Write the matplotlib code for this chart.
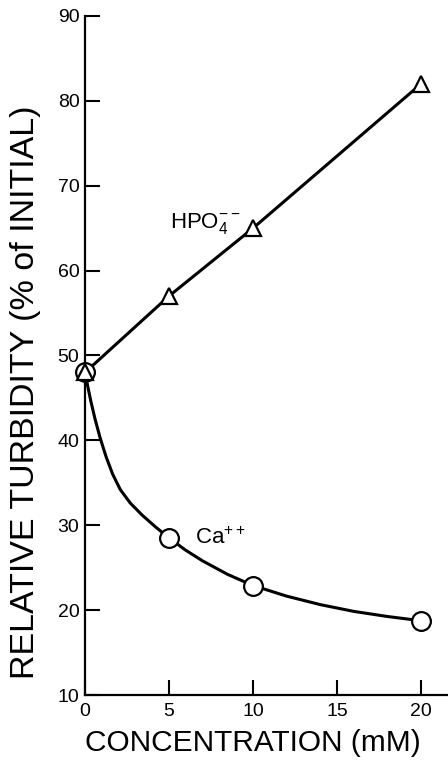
import numpy as np
import matplotlib
matplotlib.use('Agg')
import matplotlib.pyplot as plt

##########################################################################################################

# data

conc = [0, 5, 10, 20]
hpo4_turbidity = [48, 57, 65, 82]
ca_turbidity = [48, 28.5, 22.8, 18.7]

# hand-drawn smooth curve through the Ca++ points
ca_curve_x = [0, 0.15, 0.35, 0.6, 0.9, 1.25, 1.65, 2.1, 2.7, 3.4, 4.2,
              5, 6, 7, 8.5, 10, 12, 14, 16, 18, 20]
ca_curve_y = [48, 46.5, 44.6, 42.5, 40.3, 38.1, 36.0, 34.2, 32.6, 31.2, 29.8,
              28.5, 27.05, 25.8, 24.2, 22.9, 21.65, 20.65, 19.85, 19.25, 18.75]

x_ticks = [0, 5, 10, 15, 20]
x_ticklabels = ['0', '5', '10', '15', '20']
y_ticks = [10, 20, 30, 40, 50, 60, 70, 80, 90]

##########################################################################################################

FONT = ['Liberation Sans', 'DejaVu Sans']
plt.rcParams['font.family'] = FONT
plt.rcParams['mathtext.fontset'] = 'custom'
plt.rcParams['mathtext.rm'] = 'Liberation Sans'
plt.rcParams['mathtext.it'] = 'Liberation Sans'

W, H = 448, 761
fig = plt.figure(figsize=(W / 100, H / 100), dpi=100)

# axes placed in pixel terms: y axis at x=85, x axis at y=695, 90 tick at y=16
ax = fig.add_axes([85 / W, 1 - 695 / H, (W - 85) / W, (695 - 16) / H])
ax.set_xlim(0, (W - 85) / 16.8)
ax.set_ylim(10, 90)

ax.spines['top'].set_visible(False)
ax.spines['right'].set_visible(False)
ax.spines['left'].set_linewidth(1.6)
ax.spines['bottom'].set_linewidth(1.6)

ax.set_xticks(x_ticks)
ax.set_xticklabels(x_ticklabels)
ax.set_yticks(y_ticks)
ax.tick_params(direction='in', length=11, width=1.5, labelsize=14, colors='black')
ax.tick_params(axis='x', pad=6)
ax.tick_params(axis='y', pad=4)

# lines
ax.plot(conc, hpo4_turbidity, color='black', lw=2.2, zorder=2, clip_on=False)
ax.plot(ca_curve_x, ca_curve_y, color='black', lw=2.2, zorder=2, clip_on=False,
        solid_joinstyle='round')

# open markers on top of the lines
ax.plot(conc, ca_turbidity, linestyle='none', marker='o', markersize=13.5,
        markerfacecolor='white', markeredgecolor='black', markeredgewidth=1.6,
        zorder=3, clip_on=False)
ax.plot(conc, hpo4_turbidity, linestyle='none', marker='^', markersize=11.5,
        markerfacecolor='white', markeredgecolor='black', markeredgewidth=1.6,
        zorder=4, clip_on=False)

# series labels
ax.text(5.06, 65.0, r'HPO$_4^{--}$', fontsize=16, ha='left', va='baseline')
ax.text(6.55, 27.8, r'Ca$^{++}$', fontsize=16, ha='left', va='baseline')

# axis titles
fig.text(253 / W, 1 - 743 / H, 'CONCENTRATION (mM)', fontsize=21.5,
         ha='center', va='center')
fig.text(26 / W, 1 - 392 / H, 'RELATIVE TURBIDITY (% of INITIAL)', fontsize=24.5,
         ha='center', va='center', rotation=90)

fig.savefig('out.png', dpi=100)
